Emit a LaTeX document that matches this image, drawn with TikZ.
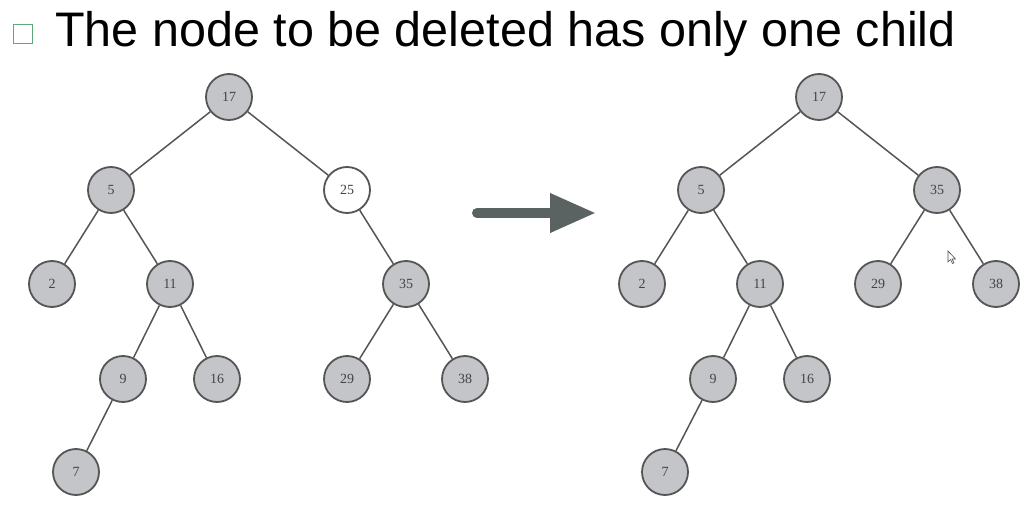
\documentclass[tikz,border=0pt]{standalone}
\usepackage{fontspec}
\setmainfont{Liberation Sans}
\newfontfamily\keyfont{Liberation Serif}
\usetikzlibrary{arrows.meta}
\definecolor{nodefill}{HTML}{C3C5C8}
\definecolor{nodeline}{HTML}{555555}
\definecolor{edgeline}{HTML}{555555}
\definecolor{keytext}{HTML}{444444}
\definecolor{bulletgreen}{HTML}{5FA878}
\definecolor{arrowgray}{HTML}{5A6262}
\tikzset{
  key/.style={circle, minimum size=46pt, inner sep=0pt, draw=nodeline, line width=1.8pt,
              fill=nodefill, text=keytext, font=\keyfont\fontsize{14}{14}\selectfont},
  freed/.style={key, fill=white},
  edge/.style={draw=edgeline, line width=1.5pt},
}
\begin{document}
\begin{tikzpicture}[x=1pt,y=-1pt]
\useasboundingbox (0,0) rectangle (1031,508);
% heading
\node[draw=bulletgreen, line width=1.6pt, minimum size=19pt, inner sep=0pt] (bullet) at (23,34) {};
\node[anchor=base west, inner sep=0pt, font=\fontsize{48.5}{48.5}\selectfont] (title) at (55,47)
  {The node to be deleted has only one child};
% tree before deletion
\node[key] (a17) at (229,97) {17};
\node[key] (a5) at (111,190) {5};
\node[freed] (a25) at (347,190) {25};
\node[key] (a2) at (52,284) {2};
\node[key] (a11) at (170,284) {11};
\node[key] (a35) at (406,284) {35};
\node[key] (a9) at (123,379) {9};
\node[key] (a16) at (217,379) {16};
\node[key] (a29) at (347,379) {29};
\node[key] (a38) at (465,379) {38};
\node[key] (a7) at (76,472) {7};
\foreach \u/\v in {a17/a5,a17/a25,a5/a2,a5/a11,a25/a35,a11/a9,a11/a16,a35/a29,a35/a38,a9/a7}
  \path[edge] (\u) -- (\v);
% tree after deletion
\node[key] (b17) at (819,97) {17};
\node[key] (b5) at (701,190) {5};
\node[key] (b35) at (937,190) {35};
\node[key] (b2) at (642,284) {2};
\node[key] (b11) at (760,284) {11};
\node[key] (b29) at (878,284) {29};
\node[key] (b38) at (996,284) {38};
\node[key] (b9) at (713,379) {9};
\node[key] (b16) at (807,379) {16};
\node[key] (b7) at (665,472) {7};
\foreach \u/\v in {b17/b5,b17/b35,b5/b2,b5/b11,b35/b29,b35/b38,b11/b9,b11/b16,b9/b7}
  \path[edge] (\u) -- (\v);
% transition arrow
\coordinate (arrfrom) at (477,213);
\coordinate (arrto) at (596,213);
\draw[arrowgray, line width=10pt, line cap=round,
      -{Triangle[length=46pt, width=37pt]}] (arrfrom) -- (arrto);
% mouse pointer
\draw[line width=0.6pt, fill=white, draw=black!70]
  (948,251) -- (948,262) -- (950.5,259.5) -- (952.5,263.5) -- (954,262.8) -- (952,259) -- (955.5,259) -- cycle;
\end{tikzpicture}
\end{document}
